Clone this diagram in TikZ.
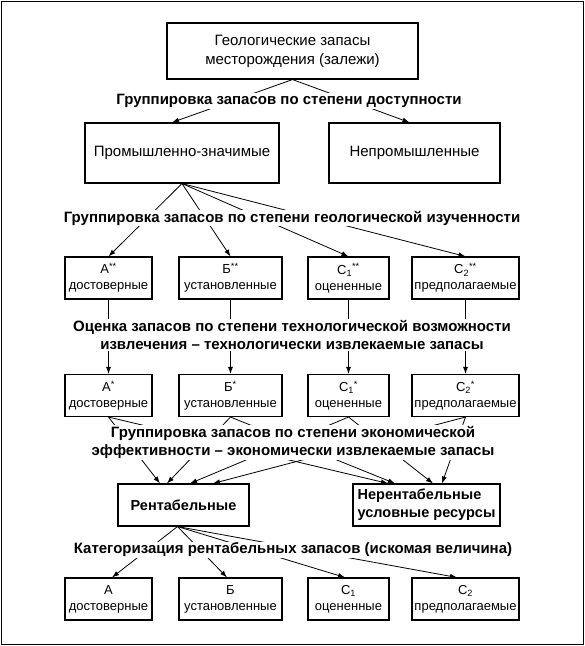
\documentclass[tikz,border=0pt]{standalone}
\usepackage{fontspec}
\setmainfont{Liberation Sans}
\usetikzlibrary{arrows.meta}

\begin{document}
\begin{tikzpicture}[x=1pt,y=-1pt,
  mainbox/.style={draw,line width=1.1pt,align=center,inner sep=0pt,font=\fontsize{15}{19}\selectfont},
  catbox/.style={draw,line width=1.1pt,align=center,inner sep=0pt,minimum height=42pt,font=\fontsize{13}{16}\selectfont},
  grp/.style={fill=white,inner sep=1pt,align=center,font=\bfseries\fontsize{15}{18.5}\selectfont},
  arr/.style={-{Latex[length=7pt,width=5pt]},line width=0.8pt}]
\useasboundingbox (0,0) rectangle (585,646);
\draw[line width=1.2pt] (1.5,1.5) rectangle (583.5,644.5);
% top of the tree
\node[mainbox,minimum width=251pt,minimum height=56pt] (geo) at (292.5,51) {Геологические запасы\\месторождения (залежи)};
\node[mainbox,minimum width=194pt,minimum height=60pt] (prom) at (182,153) {Промышленно-значимые};
\node[mainbox,minimum width=171pt,minimum height=60pt] (neprom) at (414.5,153) {Непромышленные};
% geological categories
\node[catbox,minimum width=87pt] (a2) at (108.5,278) {А\textsuperscript{**}\\достоверные};
\node[catbox,minimum width=103pt] (b2) at (230.5,278) {Б\textsuperscript{**}\\установленные};
\node[catbox,minimum width=81pt] (c2) at (348.5,278) {С\textsubscript{1}\textsuperscript{**}\\оцененные};
\node[catbox,minimum width=107pt] (d2) at (465.5,278) {С\textsubscript{2}\textsuperscript{**}\\предполагаемые};
% technologically recoverable
\node[catbox,minimum width=87pt] (a3) at (108.5,395.5) {А\textsuperscript{*}\\достоверные};
\node[catbox,minimum width=103pt] (b3) at (230.5,395.5) {Б\textsuperscript{*}\\установленные};
\node[catbox,minimum width=81pt] (c3) at (348.5,395.5) {С\textsubscript{1}\textsuperscript{*}\\оцененные};
\node[catbox,minimum width=107pt] (d3) at (465.5,395.5) {С\textsubscript{2}\textsuperscript{*}\\предполагаемые};
% economic
\node[mainbox,minimum width=131pt,minimum height=42pt,font=\bfseries\fontsize{14.5}{18}\selectfont] (rent) at (183.5,505) {Рентабельные};
\node[mainbox,minimum width=147pt,minimum height=42pt,align=left,font=\bfseries\fontsize{14.5}{18}\selectfont] (nerent) at (426.5,505) {Нерентабельные\\условные ресурсы};
% final categories
\node[catbox,minimum width=87pt] (a5) at (108.5,599) {А\\достоверные};
\node[catbox,minimum width=103pt] (b5) at (230.5,599) {Б\\установленные};
\node[catbox,minimum width=81pt] (c5) at (348.5,599) {С\textsubscript{1}\\оцененные};
\node[catbox,minimum width=107pt] (d5) at (465.5,599) {С\textsubscript{2}\\предполагаемые};

\draw[arr] (geo.south) -- ([xshift=-10pt]prom.north);
\draw[arr] (geo.south) -- ([xshift=-5pt]neprom.north);
\draw[arr] (prom.south) -- (a2.north);
\draw[arr] (prom.south) -- (b2.north);
\draw[arr] (prom.south) -- (c2.north);
\draw[arr] (prom.south) -- (d2.north);
\draw[arr] (a2) -- (a3);
\draw[arr] (b2) -- (b3);
\draw[arr] (c2) -- (c3);
\draw[arr] (d2) -- (d3);
\draw[arr] (a3.south) -- ([xshift=-23.5pt]rent.north);
\draw[arr] (b3.south) -- ([xshift=-16.5pt]rent.north);
\draw[arr] (c3.south) -- ([xshift=6.5pt]rent.north);
\draw[arr] (d3.south) -- ([xshift=29.5pt]rent.north);
\draw[arr] (a3.south) -- ([xshift=-38.5pt]nerent.north);
\draw[arr] (b3.south) -- ([xshift=-31.5pt]nerent.north);
\draw[arr] (c3.south) -- ([xshift=6.5pt]nerent.north);
\draw[arr] (d3.south) -- ([xshift=15.5pt]nerent.north);
\draw[arr] ([xshift=-6pt]rent.south) -- ([xshift=3.5pt]a5.north);
\draw[arr] ([xshift=-6pt]rent.south) -- ([xshift=-3.5pt]b5.north);
\draw[arr] ([xshift=-6pt]rent.south) -- ([xshift=-3.5pt]c5.north);
\draw[arr] ([xshift=-6pt]rent.south) -- ([xshift=-8.5pt]d5.north);

% grouping captions over the lines
\node[grp] (lvl1) at (289,101) {Группировка запасов по степени доступности};
\node[grp] (lvl2) at (292,218) {Группировка запасов по степени геологической изученности};
\node[grp] (lvl3) at (292,335) {Оценка запасов по степени технологической возможности\\извлечения -- технологически извлекаемые запасы};
\node[grp] (lvl4) at (293,442.5) {Группировка запасов по степени экономической\\эффективности -- экономически извлекаемые запасы};
\node[grp] (lvl5) at (293,550) {Категоризация рентабельных запасов (искомая величина)};
\end{tikzpicture}
\end{document}
